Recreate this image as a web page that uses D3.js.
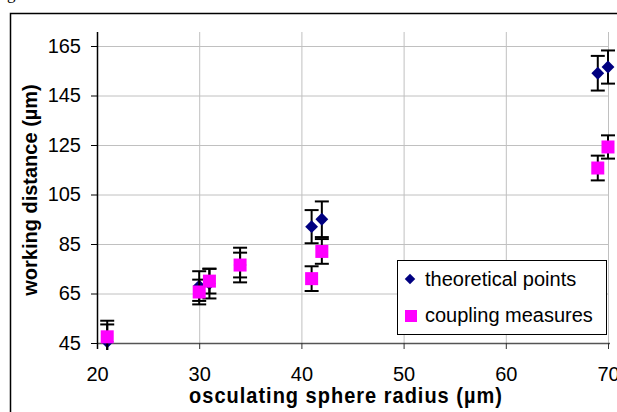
<!DOCTYPE html>
<html lang="en">
  <head>
    <meta charset="UTF-8" />
    <title>working distance</title>
    <style>
      body { margin: 0; background: #fff; }
      text { font-family: Arial, "Liberation Sans", sans-serif; fill: #000; }
      .grid line { stroke: #c0c0c0; stroke-width: 1; }
      .err line { stroke: #000; stroke-width: 2; }
    </style>
  </head>
  <body>
    <svg id="container" width="617" height="412"></svg>
  </body>
  <script src="https://cdn.jsdelivr.net/npm/d3@7"></script>
  <script>
    // data
    const radius = [21, 30, 31, 34, 41, 42, 69, 70];
    const theoretical = [45.5, 68, 69, 76.5, 92, 95, 154, 156.5];
    const theoreticalErr = [7, 6, 6, 7, 6.7, 7.2, 7, 6.7];
    const coupling = [47.5, 65.6, 70, 76.5, 71, 82, 115.7, 124.2];
    const couplingErr = [6.5, 5, 5, 5, 5, 5, 5, 4.7];
    const xTicks = [20, 30, 40, 50, 60, 70];
    const yTicks = [45, 65, 85, 105, 125, 145, 165];
    const seriesNames = ["theoretical points", "coupling measures"];

    let svg = d3.select("#container");
    const plotLeft = 97, plotRight = 608, plotTop = 32, plotBottom = 343;

    let x = d3.scaleLinear().domain([20, 70]).range([plotLeft, plotRight]);
    let y = d3.scaleLinear().domain([45, 165]).range([plotBottom, 46]);

    // outer frame, runs off the page on the right and bottom
    svg.append("rect")
      .attr("x", 10.5).attr("y", 13.5)
      .attr("width", 700).attr("height", 500)
      .attr("fill", "#fff").attr("stroke", "#000").attr("stroke-width", 1.5);

    // cut off caption letter above the frame
    svg.append("text")
      .attr("x", 7).attr("y", -1)
      .style("font-family", "Liberation Serif, serif")
      .style("font-size", "17px")
      .text("g");

    svg.append("defs").append("clipPath").attr("id", "clip")
      .append("rect").attr("x", 0).attr("y", plotTop).attr("width", 617).attr("height", 350 - plotTop);

    // grid
    let grid = svg.append("g").attr("class", "grid");
    grid.selectAll(".gx").data(xTicks.slice(1)).enter().append("line")
      .attr("x1", (d) => x(d) + 0.5).attr("x2", (d) => x(d) + 0.5)
      .attr("y1", plotTop).attr("y2", plotBottom);
    grid.selectAll(".gy").data(yTicks.slice(1)).enter().append("line")
      .attr("x1", plotLeft).attr("x2", plotRight)
      .attr("y1", (d) => y(d) + 0.5).attr("y2", (d) => y(d) + 0.5);

    // axes
    let xAxis = svg.append("g")
      .attr("transform", `translate(0,${plotBottom})`)
      .call(d3.axisBottom(x).tickValues(xTicks).tickSize(6));
    xAxis.select(".domain").attr("stroke", "#555").attr("stroke-width", 1.5).attr("d", `M${plotLeft},0.5H${plotRight + 2}`);
    xAxis.selectAll(".tick line").attr("stroke", "#333");
    xAxis.selectAll("text").attr("y", 24)
      .style("font-size", "20px").style("font-family", "Arial, Liberation Sans, sans-serif");

    let yAxis = svg.append("g")
      .attr("transform", `translate(${plotLeft},0)`)
      .call(d3.axisLeft(y).tickValues(yTicks).tickSize(6).tickPadding(10));
    yAxis.select(".domain").attr("stroke", "#000").attr("stroke-width", 1.5).attr("d", `M0.5,${plotTop}V${plotBottom + 6}`);
    yAxis.selectAll("text").style("font-size", "20px").style("font-family", "Arial, Liberation Sans, sans-serif");

    // axis titles
    svg.append("text")
      .attr("transform", "translate(346,403) scale(1,1.1)")
      .attr("text-anchor", "middle")
      .style("font-size", "20px").style("font-weight", "bold").style("letter-spacing", "1px")
      .text("osculating sphere radius (µm)");
    svg.append("text")
      .attr("transform", "translate(37,190) rotate(-90)")
      .attr("text-anchor", "middle")
      .style("font-size", "20px").style("font-weight", "bold")
      .text("working distance (µm)");

    const drawErrors = (vals, errs) => {
      let g = svg.append("g").attr("class", "err").attr("clip-path", "url(#clip)");
      radius.forEach((r, i) => {
        let cx = x(r), hi = y(vals[i] + errs[i]), lo = y(vals[i] - errs[i]);
        g.append("line").attr("x1", cx).attr("x2", cx).attr("y1", hi).attr("y2", lo);
        g.append("line").attr("x1", cx - 7).attr("x2", cx + 7).attr("y1", hi).attr("y2", hi);
        g.append("line").attr("x1", cx - 7).attr("x2", cx + 7).attr("y1", lo).attr("y2", lo);
      });
    };

    const diamond = d3.symbol().type(d3.symbolDiamond2).size(105);

    // theoretical points
    drawErrors(theoretical, theoreticalErr);
    svg.append("g").selectAll("path").data(radius).enter().append("path")
      .attr("d", diamond)
      .attr("transform", (d, i) => `translate(${x(d)},${y(theoretical[i])})`)
      .attr("fill", "#000080");

    // coupling measures
    drawErrors(coupling, couplingErr);
    svg.append("g").selectAll("rect").data(radius).enter().append("rect")
      .attr("x", (d) => x(d) - 6.5)
      .attr("y", (d, i) => y(coupling[i]) - 6.5)
      .attr("width", 13).attr("height", 13)
      .attr("fill", "#ff00ff");

    // legend
    let legend = svg.append("g");
    legend.append("rect")
      .attr("x", 397.5).attr("y", 260.5).attr("width", 209).attr("height", 74)
      .attr("fill", "#fff").attr("stroke", "#000").attr("stroke-width", 1);
    legend.append("path").attr("d", d3.symbol().type(d3.symbolDiamond2).size(70))
      .attr("transform", "translate(410,279)").attr("fill", "#000080");
    legend.append("rect").attr("x", 405).attr("y", 310).attr("width", 12).attr("height", 12).attr("fill", "#ff00ff");
    legend.selectAll("text").data(seriesNames).enter().append("text")
      .attr("x", 425).attr("y", (d, i) => 286 + i * 36)
      .style("font-size", "20px")
      .text((d) => d);
  </script>
</html>
